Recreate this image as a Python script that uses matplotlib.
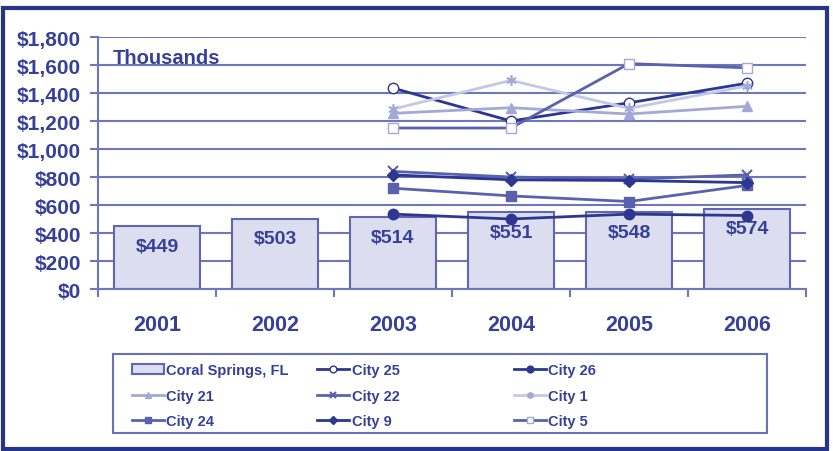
import matplotlib
matplotlib.use("Agg")
import matplotlib.pyplot as plt
import numpy as np
from matplotlib.patches import Rectangle

plt.rcParams["font.family"] = ["Liberation Sans", "DejaVu Sans"]
plt.rcParams["font.weight"] = "bold"

TEXT = "#36409A"
GRID = "#7076BC"
DARK = "#2B3790"
MID = "#5A62AD"
LIGHT = "#A3A8D6"
PALE = "#C4C7E6"

years = ["2001", "2002", "2003", "2004", "2005", "2006"]
coral_springs = [449, 503, 514, 551, 548, 574]
city_years = ["2003", "2004", "2005", "2006"]
city_25 = [1435, 1200, 1330, 1470]
city_26 = [535, 500, 535, 525]
city_21 = [1255, 1295, 1250, 1305]
city_22 = [840, 800, 785, 815]
city_1 = [1285, 1490, 1290, 1450]
city_24 = [720, 665, 625, 740]
city_9 = [815, 780, 775, 760]
city_5 = [1150, 1150, 1610, 1580]
y_ticks = [0, 200, 400, 600, 800, 1000, 1200, 1400, 1600, 1800]

fig = plt.figure(figsize=(8.33, 4.52), dpi=100)
ax = fig.add_axes([0.1176, 0.3584, 0.8500, 0.5575])

x = np.arange(len(years))
cx = np.array([years.index(y) for y in city_years])

bars = ax.bar(x, coral_springs, width=0.73, color="#DCDDEF", edgecolor="#6067B0",
              linewidth=1.5, label="Coral Springs, FL", zorder=2)
for xi, v in zip(x, coral_springs):
    ax.annotate(f"${v}", (xi, v), xytext=(0, -14.5), textcoords="offset points",
                ha="center", va="center", fontsize=14, color=TEXT, fontweight="bold",
                zorder=3)

series = [
    ("City 25", city_25, DARK, dict(marker="o", mfc="white", mec=DARK)),
    ("City 26", city_26, DARK, dict(marker="o", mfc=DARK, mec=DARK)),
    ("City 21", city_21, LIGHT, dict(marker="^", mfc=LIGHT, mec=LIGHT)),
    ("City 22", city_22, MID, dict(marker="x", mec=MID, mew=1.5)),
    ("City 1", city_1, PALE, dict(marker=(6, 2, 0), mec=LIGHT, mew=1.2)),
    ("City 24", city_24, MID, dict(marker="s", mfc=MID, mec=MID)),
    ("City 9", city_9, DARK, dict(marker="D", mfc=DARK, mec=DARK, ms=6)),
    ("City 5", city_5, MID, dict(marker="s", mfc="white", mec=LIGHT)),
]
handles = {"Coral Springs, FL": bars}
for name, vals, col, kw in series:
    opts = dict(ms=7.5, lw=2.0)
    opts.update(kw)
    (ln,) = ax.plot(cx, vals, color=col, label=name, zorder=4, **opts)
    handles[name] = ln

ax.set_xlim(-0.5, len(years) - 0.5)
ax.set_ylim(0, 1800)
ax.set_yticks(y_ticks)
ax.set_yticklabels([f"${v:,}" for v in y_ticks])
ax.set_xticks(x)
ax.set_xticklabels(years)
ax.set_xticks(np.arange(-0.5, len(years)), minor=True)
ax.tick_params(axis="x", which="major", length=0, pad=18, labelsize=15.5, labelcolor=TEXT)
ax.tick_params(axis="x", which="minor", length=6, width=1.5, color=GRID)
ax.tick_params(axis="y", length=6, width=1.5, color=GRID, pad=6, labelsize=15,
               labelcolor=TEXT)
ax.yaxis.grid(True, color=GRID, lw=1.5)
ax.set_axisbelow(True)
for s in ["top", "right"]:
    ax.spines[s].set_visible(False)
for s in ["left", "bottom"]:
    ax.spines[s].set_color(GRID)
    ax.spines[s].set_linewidth(1.5)

ax.text(0.021, 0.92, "Thousands", transform=ax.transAxes, ha="left", va="center",
        fontsize=14.5, color=TEXT, fontweight="bold")

# legend: framed box holding three columns
fig.patches.append(Rectangle((0.1357, 0.0398), 0.785, 0.1748, transform=fig.transFigure,
                             fill=False, edgecolor="#6A70B5", lw=1.5))
columns = [
    (["Coral Springs, FL", "City 21", "City 24"], 0.158),
    (["City 25", "City 22", "City 9"], 0.381),
    (["City 26", "City 1", "City 5"], 0.617),
]
for names, xpos in columns:
    leg = fig.legend([handles[n] for n in names], names, loc="upper left",
                     bbox_to_anchor=(xpos, 0.194), frameon=False, fontsize=10.5,
                     handlelength=2.2, handletextpad=0.15, labelspacing=0.79,
                     borderpad=0, borderaxespad=0, markerscale=0.65)
    for t in leg.get_texts():
        t.set_color(TEXT)
        t.set_fontweight("bold")

fig.patches.append(Rectangle((0.004, 0.004), 0.989, 0.976, transform=fig.transFigure,
                             fill=False, edgecolor="#26348A", lw=3))

fig.savefig("out.png", dpi=100)
